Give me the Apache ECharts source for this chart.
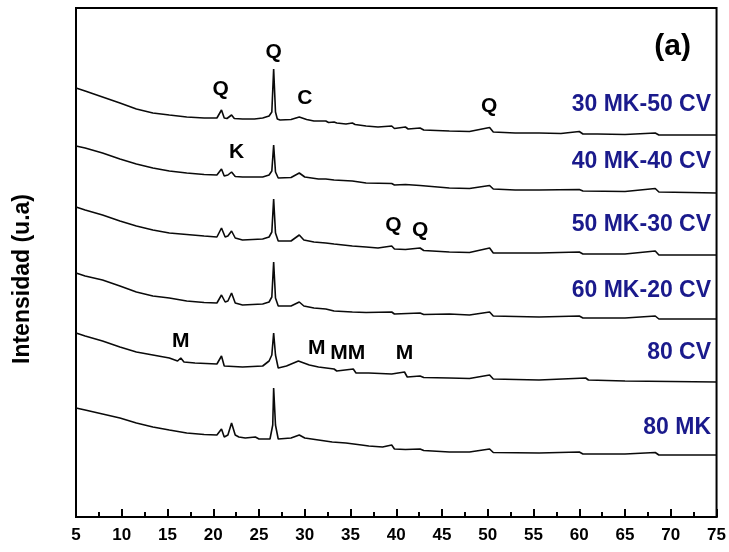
<!DOCTYPE html>
<html>
<head>
<meta charset="utf-8">
<script src="https://cdn.jsdelivr.net/npm/echarts@6/dist/echarts.min.js"></script>
<style>html,body{margin:0;padding:0;background:#fff}#c{width:729px;height:552px}</style>
</head>
<body>
<div id="c"></div>
<script>
// 2θ (degrees) vs intensity (arbitrary units, traces offset as in the figure)
const mk30cv50 = [[5,429],[6,426],[7.9,420],[9.8,414],[11.6,408],[13.4,404],[15.2,402],[17.1,400],[19,399],[20.4,399],[20.9,407],[21.2,399],[21.5,398.5],[22.0,402],[22.3,398.5],[23.2,398],[24.5,398],[25.4,399],[26.1,401],[26.4,405],[26.6,448],[26.8,405],[27.0,398],[27.3,397],[28.5,397.5],[29.4,400],[30.2,397.5],[31,396],[32.3,396],[32.6,394.5],[33.2,395],[33.5,394],[34.5,393],[35.2,394],[35.5,392.5],[36.7,391],[38,390],[39.5,391],[39.8,388.5],[41.0,390],[41.3,388],[42.6,389],[43,387],[45.8,386],[48,385.5],[50.2,389.5],[50.6,385],[53,384],[55.6,384],[58,383.5],[60,385.5],[60.4,383],[62,383],[65,382.5],[68.3,384],[68.7,382],[72,382],[75,382]];
const mk40cv40 = [[5,371],[6,369],[7.9,364],[9.8,358],[11.6,353],[13.4,349],[15.2,346],[17.1,344],[19,342.5],[20.4,342],[20.9,348],[21.2,341],[21.6,342],[22.0,345],[22.4,340.5],[23.2,340],[25.4,340],[26.1,342],[26.4,346],[26.6,372],[26.8,345],[27.1,339],[28.5,339.5],[29.4,344],[30,340],[31.5,338],[32.3,338],[33.2,337],[35.2,336],[36.7,334],[39.5,333.5],[39.8,332],[41,332.5],[42.6,331.5],[45.8,329],[48,328.5],[50.2,331.5],[50.6,328],[53,327],[55.6,327],[60,327.5],[60.4,326],[65,325.5],[68.3,328.5],[68.7,325],[72,324.5],[75,324]];
const mk50cv30 = [[5,310],[6,307],[7.9,302],[9.8,296],[11.6,291],[13.4,287],[15.2,284],[17.1,282.5],[19,281],[20.4,280],[20.9,289],[21.3,280],[21.6,281],[22.0,286],[22.4,279],[23.2,277],[25.4,278],[26.1,280],[26.4,285],[26.6,318],[26.8,284],[27.1,276],[28.5,276],[29.4,282],[29.9,277],[31,275],[32.3,274],[33.2,273],[35.2,271],[36.7,270],[38,269],[39.5,271],[39.8,268],[41,267.5],[42.6,269],[43,266.5],[45.8,265],[48,264.5],[50.2,269],[50.6,264],[55.6,264],[60,265],[60.4,263],[65,263],[68.3,266],[68.7,262],[75,262]];
const mk60cv20 = [[5,244],[6,241],[7.9,237],[9.8,231],[11.6,225],[13.4,221],[15.2,219],[17.1,216],[19,214.5],[20.4,214],[20.9,222],[21.3,215],[21.6,216],[22.0,224],[22.4,214],[23.2,212],[25.4,213],[26.1,215],[26.4,220],[26.6,255],[26.8,219],[27.1,211],[28.5,211],[29.4,215],[29.9,211],[31,209],[32.3,208],[33.2,206],[35.2,205],[36.7,204.5],[39.5,205],[39.8,203],[42.6,204],[43,202.5],[45.8,203],[48,202],[50.2,205],[50.6,201],[55.6,200],[60,201],[60.4,199],[65,199],[68.3,201],[68.7,198],[75,198]];
const cv80 = [[5,184],[6,181],[7.9,176],[9.8,170],[11.6,165],[13.4,162],[15.2,159],[16.1,156],[16.45,159],[16.8,155],[18,154],[20.4,153],[20.9,161],[21.2,151],[23.2,150],[25.4,151],[26.1,156],[26.4,162],[26.6,184],[26.8,162],[27.1,149],[28,151],[29.3,156],[30.5,152],[31.5,150],[33.2,148],[33.5,146],[35.3,148],[35.6,144],[37,144],[39.5,143],[40.9,145],[41.2,140],[42.6,141],[43,139.5],[45.8,139],[48,138.5],[50.2,142],[50.6,138],[55.6,137],[60.7,139],[61,137],[65,136],[70,135.5],[75,135]];
const mk80 = [[5,109],[6,107],[7.9,103],[9.8,99],[11.6,94],[13.4,90],[15.2,87],[17.1,84],[19,82.5],[20.4,82],[20.9,88],[21.2,80],[21.6,82],[22.0,94],[22.4,82],[22.8,80],[23.5,79],[24.6,80],[25,78],[26.2,78],[26.5,92],[26.6,129],[26.8,92],[27.1,78],[28.5,79],[29.4,82],[30,79],[31.5,77],[33,75],[34.5,74],[36.2,72],[37,71],[38.5,70],[39.5,72],[39.8,68],[41,67.5],[42.6,68],[43,66.5],[45.8,65],[48,65],[50.2,68],[50.6,64.5],[55.6,64],[60,65],[60.4,63],[65,63],[68.3,64.5],[68.7,62],[75,62]];

const sampleNames = ['30 MK-50 CV','40 MK-40 CV','50 MK-30 CV','60 MK-20 CV','80 CV','80 MK'];
const sampleLabelAt = [[74.4,412],[74.4,355],[74.4,292],[74.4,226],[74.4,164],[74.4,89]];
const phaseLetters = ['Q','Q','C','Q','K','Q','Q','M','M','MM','M'];
const phaseAt = [[20.8,428],[26.6,465],[30.0,419],[50.15,411],[22.55,365],[39.7,292],[42.6,287],[16.45,176],[31.3,169],[34.7,164],[40.9,164]];
const xTicks = {min:5, max:75, step:5};
const panelTag = '(a)';
const panelTagAt = [70.2, 470];
const yTitle = 'Intensidad (u.a)';

const traces = [mk30cv50, mk40cv40, mk50cv30, mk60cv20, cv80, mk80];
const FONT = '"Liberation Sans", Arial, sans-serif';

const series = traces.map((d, i) => ({
  name: sampleNames[i], type: 'line', data: d, showSymbol: false, silent: true,
  lineStyle: {color: '#0a0a0a', width: 1.6}, animation: false
}));

function textSeries(points, names, labelOpt) {
  return {
    type: 'scatter', symbolSize: 1, animation: false, silent: true,
    itemStyle: {color: 'transparent', opacity: 1},
    data: points.map((p, i) => ({value: p, name: names[i]})),
    label: Object.assign({show: true, position: 'inside', verticalAlign: 'middle', opacity: 1,
      textBorderWidth: 0, formatter: p => p.name, fontWeight: 'bold', fontFamily: FONT}, labelOpt)
  };
}
series.push(textSeries(sampleLabelAt, sampleNames, {align: 'right', color: '#1a1a8c', fontSize: 23}));
series.push(textSeries(phaseAt, phaseLetters, {align: 'center', color: '#000', fontSize: 21}));
series.push(textSeries([panelTagAt], [panelTag], {align: 'center', color: '#000', fontSize: 30}));

const chart = echarts.init(document.getElementById('c'), null, {renderer: 'canvas'});
chart.setOption({
  backgroundColor: '#fff',
  animation: false,
  grid: {left: 76, right: 11, top: 8, bottom: 35, show: true, borderColor: '#000', borderWidth: 2, backgroundColor: 'transparent'},
  xAxis: {
    type: 'value', min: xTicks.min, max: xTicks.max, interval: xTicks.step,
    axisLine: {show: true, lineStyle: {color: '#000', width: 2}},
    axisTick: {show: true, inside: true, length: 8, lineStyle: {color: '#000', width: 2}},
    minorTick: {show: true, splitNumber: 2, length: 5, lineStyle: {color: '#000', width: 2}},
    splitLine: {show: false},
    axisLabel: {color: '#000', fontSize: 17, fontWeight: 'bold', fontFamily: FONT, margin: 10}
  },
  yAxis: {
    type: 'value', min: 0, max: 509,
    axisLine: {show: true, lineStyle: {color: '#000', width: 2}},
    axisTick: {show: false}, axisLabel: {show: false}, splitLine: {show: false}
  },
  graphic: [{
    type: 'text', x: 23, y: 279, rotation: Math.PI / 2,
    style: {text: yTitle, fill: '#000', font: 'bold 23px ' + FONT, textAlign: 'center', textVerticalAlign: 'middle'}
  }],
  series: series
});
</script>
</body>
</html>
